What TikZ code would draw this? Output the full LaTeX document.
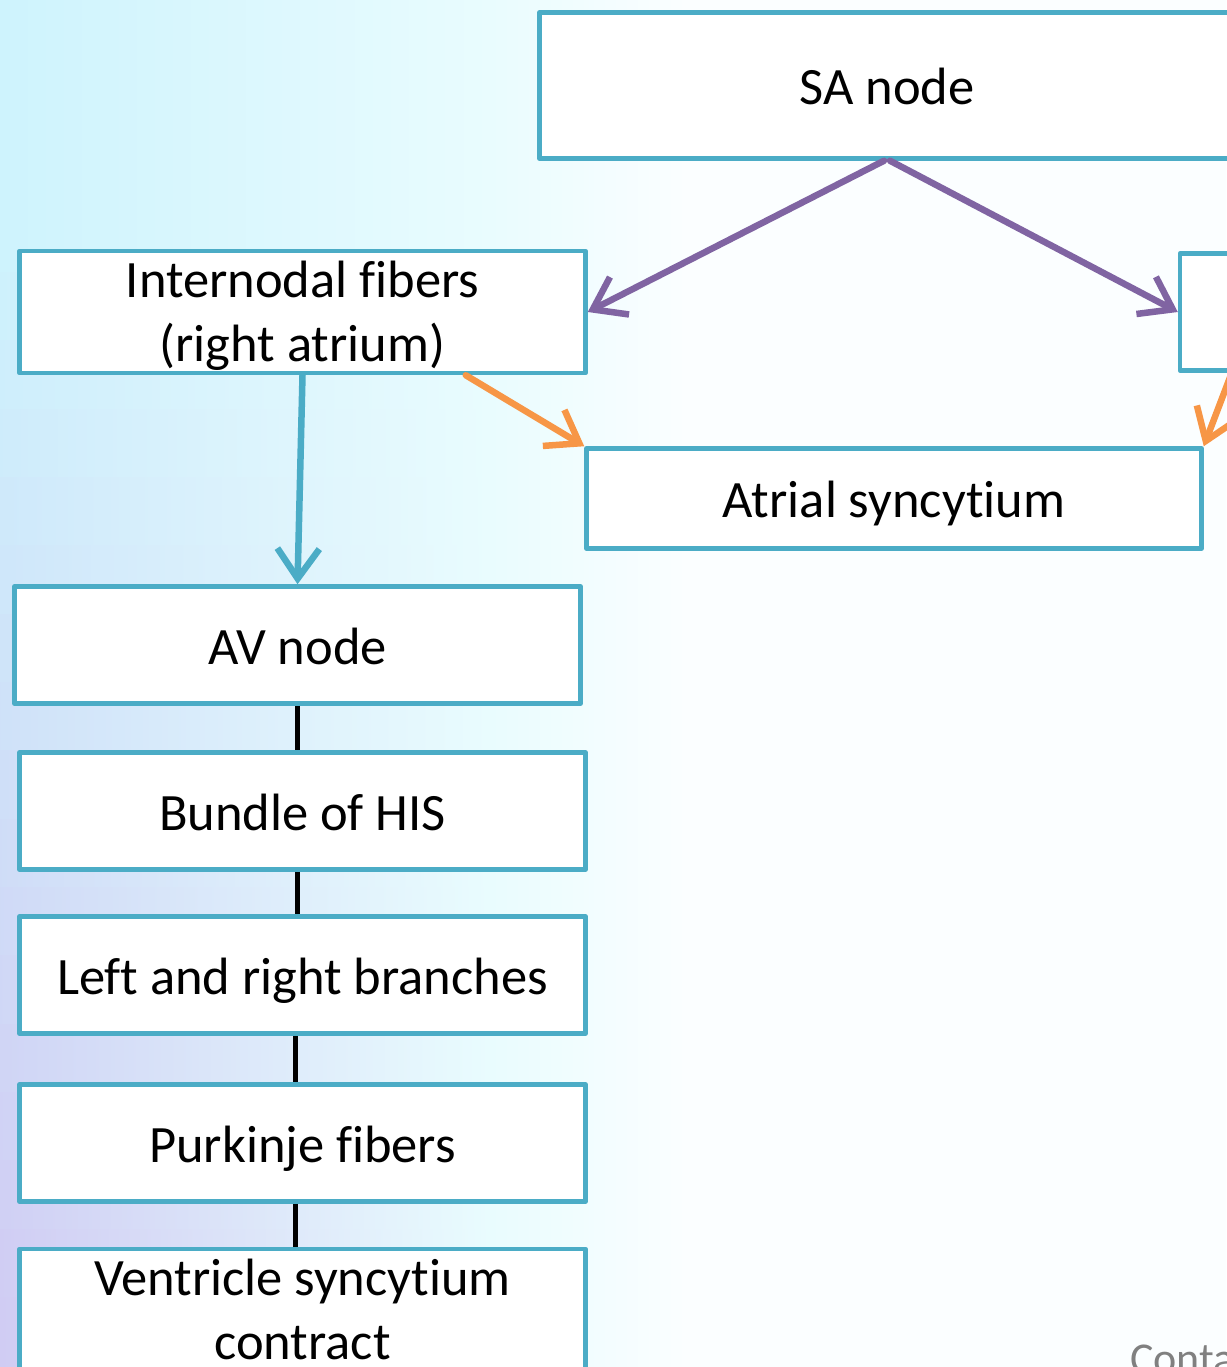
\documentclass[tikz,border=0pt]{standalone}
\usepackage{fontspec}
\setmainfont{Carlito}[Ligatures={NoCommon,NoRequired,NoContextual},RawFeature={-liga;-clig;-calt}]
\usetikzlibrary{arrows.meta,calc}
\definecolor{khung}{HTML}{4BACC6}
\definecolor{tim}{HTML}{8064A2}
\definecolor{cam}{HTML}{F79646}
\definecolor{nenxanh}{HTML}{CEF3FD}
\definecolor{nentim}{HTML}{D0CCF3}
\definecolor{nengiua}{HTML}{E9FCFE}
\definecolor{nentrang}{HTML}{FBFEFF}
\begin{document}
\begin{tikzpicture}[x=1pt,y=-1pt, line join=round, line cap=round,
	hop/.style={draw=khung, line width=4.5pt, fill=white, align=center, inner sep=0pt,
		minimum width=566, minimum height=117, text height=50pt, text depth=12pt,
		font=\fontsize{52.5}{64}\selectfont},
	haidong/.style={text height=110pt},
	mui/.style={line width=6.5pt, -{Straight Barb[length=30pt,width=42pt]}}]
	\def\W{1226} \def\H{1367} % kich thuoc
	\useasboundingbox (0,0) rectangle (\W,\H);
	\begin{scope}[y=1pt]
	\foreach \i in {0,...,19}{
		\pgfmathtruncatemacro{\p}{min(100,max(0,(\i-3)*6.5))}
		\colorlet{trai}{nentim!\p!nenxanh}
		\pgfdeclarehorizontalshading{dai\i}{100bp}{color(0bp)=(trai); color(25bp)=(trai);
			color(45bp)=(nengiua); color(53bp)=(nentrang); color(100bp)=(nentrang)}
		\pgfmathsetmacro{\ya}{-\i*68.35+1}
		\pgfmathsetmacro{\yb}{-(\i+1)*68.35-1}
		\shade[shading=dai\i] (0,\ya) rectangle (\W,\yb);
	}
	\end{scope}
	\node[hop, minimum width=695, minimum height=146] (sa) at (887,85.5) {SA node};
	\node[hop, haidong] (intn) at (302.5,312) {Internodal fibers\\(right atrium)};
	\node[hop] (phai) at (1463,312) {};
	\node[hop, minimum width=615, minimum height=100] (atr) at (894,498.5) {Atrial syncytium};
	\node[hop] (av) at (297.5,645) {AV node};
	\foreach \ten/\y/\chu in {his/811/Bundle of HIS, nhanh/975/Left and right branches,
		purk/1143/Purkinje fibers}{
		\node[hop] (\ten) at (302.5,\y) {\chu};
	}
	\node[hop, haidong] (that) at (302.5,1310) {Ventricle syncytium\\contract};
	% cac mui ten
	\draw[mui, tim] ([xshift=-3pt]sa.south) -- (intn.east);
	\draw[mui, tim] ([xshift=3pt]sa.south) -- (phai.west);
	\draw[mui, cam] ([xshift=-122pt]intn.south east) -- (atr.north west);
	\draw[mui, cam] ([xshift=54pt]phai.south west) -- (atr.north east);
	\draw[mui, khung] (intn.south) -- (av.north);
	\draw[line width=5pt, line cap=butt] (av.south) -- (av.south |- his.north);
	\draw[line width=5pt, line cap=butt] (av.south |- his.south) -- (av.south |- nhanh.north);
	\draw[line width=5pt, line cap=butt] ([xshift=-2pt]av.south |- nhanh.south) -- ([xshift=-2pt]av.south |- purk.north);
	\draw[line width=5pt, line cap=butt] ([xshift=-2pt]av.south |- purk.south) -- ([xshift=-2pt]av.south |- that.north);
	\node[anchor=base west, inner sep=0pt, text=gray, font=\fontsize{44}{52}\selectfont] (conta) at (1130,1373) {Conta};
\end{tikzpicture}
\end{document}
